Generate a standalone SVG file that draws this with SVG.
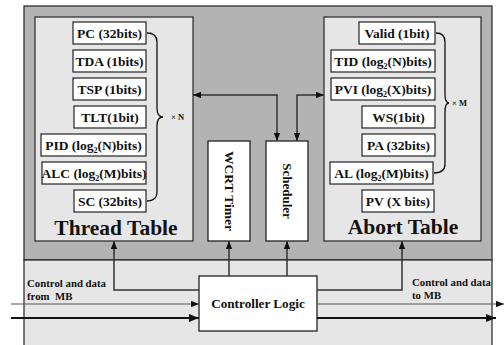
<svg xmlns="http://www.w3.org/2000/svg" width="504" height="345" viewBox="0 0 504 345">
<defs>
<style>
.bg{fill:#b3b3b3;stroke:#222;stroke-width:1.2}
.lo{fill:#e6e6e6;stroke:#222;stroke-width:1.2}
.tbl{fill:#e6e6e6;stroke:#333;stroke-width:1.3}
.fld{fill:#fff;stroke:#222;stroke-width:1.2}
.blk{fill:#fff;stroke:#222;stroke-width:1.3}
text{font-family:"Liberation Serif","Times New Roman",serif;font-weight:bold;fill:#111}
.f{font-size:13.5px;text-anchor:middle}
.t{font-size:21.5px;text-anchor:middle}
.s{font-size:8px}
.lbl{font-size:10.8px}
.c{fill:none;stroke:#333;stroke-width:1.5}
.thin{fill:none;stroke:#555;stroke-width:1.2}
.thick{fill:none;stroke:#111;stroke-width:2.2}
.brace{fill:none;stroke:#111;stroke-width:1.3}
</style>
<marker id="ah" viewBox="0 0 10 8" refX="10" refY="4" markerWidth="8" markerHeight="6.4" markerUnits="userSpaceOnUse" orient="auto-start-reverse"><path d="M0,0 L10,4 L0,8 z" fill="#111"/></marker>
<marker id="ahb" viewBox="0 0 10 8" refX="10" refY="4" markerWidth="14" markerHeight="8" markerUnits="userSpaceOnUse" orient="auto"><path d="M0,0 L10,4 L0,8 z" fill="#111"/></marker>
</defs>
<rect class="bg" x="24" y="6" width="468" height="254"/>
<rect class="lo" x="24" y="260" width="468" height="90"/>

<g id="thread-table">
<rect class="tbl" x="35" y="17" width="158" height="224"/>
<rect class="fld" x="73" y="22" width="73" height="22"/><text class="f" x="109.5" y="38">PC (32bits)</text>
<rect class="fld" x="73" y="50" width="73" height="22"/><text class="f" x="109.5" y="66">TDA (1bits)</text>
<rect class="fld" x="73" y="78" width="73" height="22"/><text class="f" x="109.5" y="94">TSP (1bits)</text>
<rect class="fld" x="74" y="106" width="72" height="22"/><text class="f" x="110" y="122">TLT(1bit)</text>
<rect class="fld" x="41" y="134" width="105" height="22"/><text class="f" x="93.5" y="150">PID (log<tspan class="s" dy="3">2</tspan><tspan dy="-3">(N)bits)</tspan></text>
<rect class="fld" x="42" y="162" width="104" height="22"/><text class="f" x="94" y="178">ALC (log<tspan class="s" dy="3">2</tspan><tspan dy="-3">(M)bits)</tspan></text>
<rect class="fld" x="74" y="190" width="72" height="22"/><text class="f" x="110" y="206">SC (32bits)</text>
<path class="brace" d="M147,33 C153,33 157,36 157,42 L157,108 C157,114 159,117 163,117 C159,117 157,120 157,126 L157,192 C157,198 153,201 147,201"/>
<text x="171" y="120" style="font-size:8.5px">× N</text>
<text class="t" x="116" y="235">Thread Table</text>
</g>

<g id="abort-table">
<rect class="tbl" x="324" y="17" width="157" height="224"/>
<rect class="fld" x="359" y="22" width="76" height="22"/><text class="f" x="397" y="38">Valid (1bit)</text>
<rect class="fld" x="331" y="50" width="104" height="22"/><text class="f" x="383" y="66">TID (log<tspan class="s" dy="3">2</tspan><tspan dy="-3">(N)bits)</tspan></text>
<rect class="fld" x="331" y="78" width="104" height="22"/><text class="f" x="383" y="94">PVI (log<tspan class="s" dy="3">2</tspan><tspan dy="-3">(X)bits)</tspan></text>
<rect class="fld" x="362" y="106" width="73" height="22"/><text class="f" x="398.5" y="122">WS(1bit)</text>
<rect class="fld" x="362" y="134" width="73" height="22"/><text class="f" x="398.5" y="150">PA (32bits)</text>
<rect class="fld" x="330" y="162" width="103" height="22"/><text class="f" x="381.5" y="178">AL (log<tspan class="s" dy="3">2</tspan><tspan dy="-3">(M)bits)</tspan></text>
<rect class="fld" x="362" y="190" width="72" height="22"/><text class="f" x="398" y="206">PV (X bits)</text>
<path class="brace" d="M436,33 C442,33 445,36 445,42 L445,94 C445,100 446,103 449,103 C446,103 445,106 445,112 L445,164 C445,170 441,173 434,173"/>
<text x="452" y="106" style="font-size:8.5px">× M</text>
<text class="t" x="403" y="234">Abort Table</text>
</g>

<g id="wcrt-timer">
<rect class="blk" x="208" y="141" width="42" height="100"/>
<text transform="translate(229,191) rotate(90)" x="0" y="4.5" style="font-size:13.5px;text-anchor:middle">WCRT Timer</text>
</g>

<g id="scheduler">
<rect class="blk" x="266" y="141" width="42" height="100"/>
<text transform="translate(287,191) rotate(90)" x="0" y="4.5" style="font-size:13px;text-anchor:middle">Scheduler</text>
</g>

<g id="controller-logic">
<rect class="blk" x="199" y="276" width="118" height="55"/>
<text x="258" y="307.5" style="font-size:13.2px;text-anchor:middle">Controller Logic</text>
</g>

<g id="labels">
<text class="lbl" x="27" y="287">Control and data</text>
<text class="lbl" x="27" y="300" xml:space="preserve">from  MB</text>
<text class="lbl" x="412" y="286">Control and data</text>
<text class="lbl" x="412" y="299">to MB</text>
</g>

<g id="connectors">
<path class="c" d="M277,141 L277,95 L193,95" marker-start="url(#ah)" marker-end="url(#ah)"/>
<path class="c" d="M297,141 L297,95 L324,95" marker-start="url(#ah)" marker-end="url(#ah)"/>
<path class="c" d="M229,276 L229,241" marker-end="url(#ah)"/>
<path class="c" d="M287,276 L287,241" marker-end="url(#ah)"/>
<path class="c" d="M199,290 L114,290 L114,241" marker-end="url(#ah)"/>
<path class="c" d="M317,290 L402,290 L402,241" marker-end="url(#ah)"/>
<path class="thin" d="M11,304 L199,304" marker-end="url(#ah)"/>
<path class="thick" d="M11,318 L199,318" marker-end="url(#ahb)"/>
<path class="thin" d="M317,304 L504,304" marker-end="url(#ah)"/>
<path class="thick" d="M317,318 L496,318" marker-end="url(#ahb)"/>
</g>
</svg>
